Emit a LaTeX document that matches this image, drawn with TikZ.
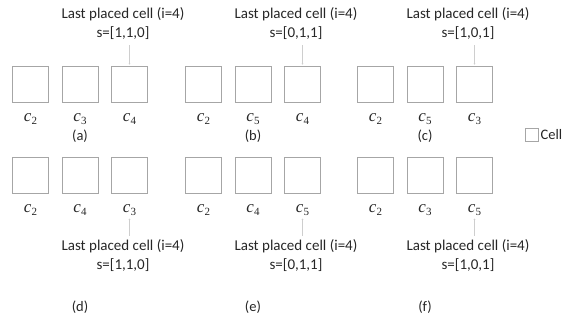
\documentclass[tikz,border=0pt]{standalone}
\usepackage{fontspec}
\setmainfont{Carlito}
\newfontfamily\cellfont{Liberation Serif}
\usetikzlibrary{arrows.meta}
\definecolor{boxgray}{HTML}{A6A6A6}
\definecolor{txt}{HTML}{262626}
% italic cell name with a lowered index
\newcommand\cellname[1]{{\cellfont\itshape c}\raisebox{-0.35ex}{\cellfont\fontsize{11}{11}\selectfont #1}}
\tikzset{
  cellbox/.style={draw=boxgray, line width=1pt, minimum width=36pt, minimum height=36pt, inner sep=0pt},
  clabel/.style={text=txt, font=\fontsize{17}{17}\selectfont, inner sep=0pt},
  title/.style={text=txt, align=center, font=\fontsize{15}{19}\selectfont, inner sep=0pt},
  tag/.style={text=txt, font=\fontsize{14.5}{15}\selectfont, inner sep=0pt},
  pointer/.style={draw=boxgray!55, line width=0.5pt, -{Circle[length=1.6pt]}}
}
\begin{document}
\begin{tikzpicture}[x=1pt, y=-1pt]
\useasboundingbox (0,0) rectangle (570,328);
% top row: cells, labels and pointers from the caption down to the last cell
\foreach \g/\gx/\ca/\cb/\cc/\s in {a/12/2/3/4/{1,1,0}, b/185/2/5/4/{0,1,1}, c/357/2/5/3/{1,0,1}}{
  \node[cellbox] (\g1) at (\gx+18.5, 85) {};
  \node[cellbox] (\g2) at (\gx+68, 85) {};
  \node[cellbox] (\g3) at (\gx+117.5, 85) {};
  \node[clabel] (\g l1) at (\gx+18.5, 119) {\cellname{\ca}};
  \node[clabel] (\g l2) at (\gx+68, 119) {\cellname{\cb}};
  \node[clabel] (\g l3) at (\gx+117.5, 119) {\cellname{\cc}};
  \node[tag] (\g tag) at (\gx+68, 136) {(\g)};
  \node[title] (\g t) at (\gx+111, 24) {Last placed cell (i=4)\\s=[\s]};
  \draw[pointer, shorten <=5pt, shorten >=2pt] (\g t.south -| \g3.north) -- (\g3.north);
}
% bottom row: cells, labels and pointers from the caption up to the last label
\foreach \g/\gx/\ca/\cb/\cc/\s in {d/12/2/4/3/{1,1,0}, e/185/2/4/5/{0,1,1}, f/357/2/3/5/{1,0,1}}{
  \node[cellbox] (\g1) at (\gx+18.5, 175.5) {};
  \node[cellbox] (\g2) at (\gx+68, 175.5) {};
  \node[cellbox] (\g3) at (\gx+117.5, 175.5) {};
  \node[clabel] (\g l1) at (\gx+18.5, 210) {\cellname{\ca}};
  \node[clabel] (\g l2) at (\gx+68, 210) {\cellname{\cb}};
  \node[clabel] (\g l3) at (\gx+117.5, 210) {\cellname{\cc}};
  \node[title] (\g t) at (\gx+111, 256) {Last placed cell (i=4)\\s=[\s]};
  \node[tag] (\g tag) at (\gx+68, 307) {(\g)};
  \draw[pointer, shorten <=4pt, shorten >=3pt] (\g t.north -| \g l3.south) -- (\g l3.south);
}
% legend
\node[draw=boxgray, line width=1pt, minimum size=13pt, inner sep=0pt] (legbox) at (531.5, 135) {};
\node[tag, anchor=west] (legtext) at (legbox.east) [xshift=2pt] {Cell};
\end{tikzpicture}
\end{document}
